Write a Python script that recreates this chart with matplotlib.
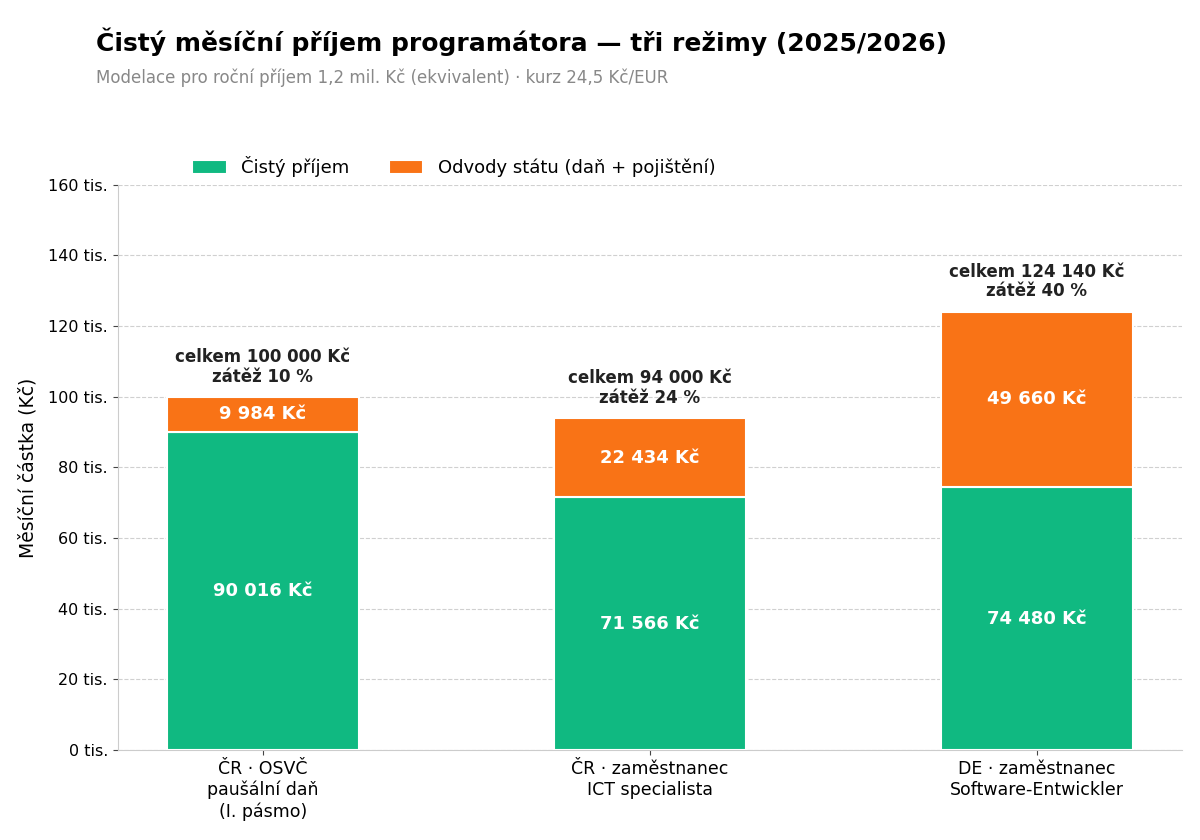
import matplotlib
matplotlib.use('Agg')
import matplotlib.pyplot as plt
from matplotlib.ticker import FuncFormatter

regimes = ['ČR · OSVČ\npaušální daň\n(I. pásmo)',
           'ČR · zaměstnanec\nICT specialista',
           'DE · zaměstnanec\nSoftware-Entwickler']
net = [90016, 71566, 74480]
levies = [9984, 22434, 49660]
burden = [10, 24, 40]

GREEN = '#10b981'
ORANGE = '#f97316'


def fmt_kc(v):
    return '{:,}'.format(int(round(v))).replace(',', ' ') + ' Kč'


fig = plt.figure(figsize=(12, 8.4), dpi=100)
ax = fig.add_axes([0.098, 0.107, 0.887, 0.673])

x = list(range(len(regimes)))
w = 0.495
ax.bar(x, net, w, color=GREEN, edgecolor='white', linewidth=1.5,
       label='Čistý příjem', zorder=3)
ax.bar(x, levies, w, bottom=net, color=ORANGE, edgecolor='white',
       linewidth=1.5, label='Odvody státu (daň + pojištění)', zorder=3)

for i in x:
    ax.text(i, net[i] / 2, fmt_kc(net[i]), ha='center', va='center',
            color='white', fontsize=13, fontweight='bold', zorder=4)
    ax.text(i, net[i] + levies[i] / 2, fmt_kc(levies[i]), ha='center',
            va='center', color='white', fontsize=13, fontweight='bold',
            zorder=4)
    total = net[i] + levies[i]
    ax.annotate('celkem %s\nzátěž %d %%' % (fmt_kc(total), burden[i]),
                (i, total), xytext=(0, 8), textcoords='offset points',
                ha='center', va='bottom', fontsize=12, fontweight='bold',
                color='#222222', linespacing=1.1)

ax.set_xlim(-0.375, 2.375)
ax.set_ylim(0, 160000)
ax.set_yticks(range(0, 160001, 20000))
ax.yaxis.set_major_formatter(FuncFormatter(lambda v, p: '%d tis.' % (v / 1000)))
ax.set_xticks(x)
ax.set_xticklabels(regimes, fontsize=12.5)
ax.tick_params(axis='y', labelsize=11.5, color='#444444')
ax.tick_params(axis='x', color='#444444')
ax.set_ylabel('Měsíční částka (Kč)', fontsize=13.5, labelpad=8)

ax.grid(axis='y', linestyle='--', color='#d0d0d0', linewidth=0.8, zorder=0)
for s in ['top', 'right']:
    ax.spines[s].set_visible(False)
for s in ['left', 'bottom']:
    ax.spines[s].set_color('#cccccc')

ax.legend(loc='lower left', bbox_to_anchor=(0.055, 0.985), ncol=2,
          frameon=False, fontsize=13, columnspacing=2.2, handlelength=1.9,
          handleheight=0.85)

fig.text(0.08, 0.95, 'Čistý měsíční příjem programátora — tři režimy (2025/2026)',
         fontsize=18, fontweight='bold', va='center')
fig.text(0.08, 0.907, 'Modelace pro roční příjem 1,2 mil. Kč (ekvivalent) · kurz 24,5 Kč/EUR',
         fontsize=12, color='#888888', va='center')

fig.savefig('out.png', dpi=100)
